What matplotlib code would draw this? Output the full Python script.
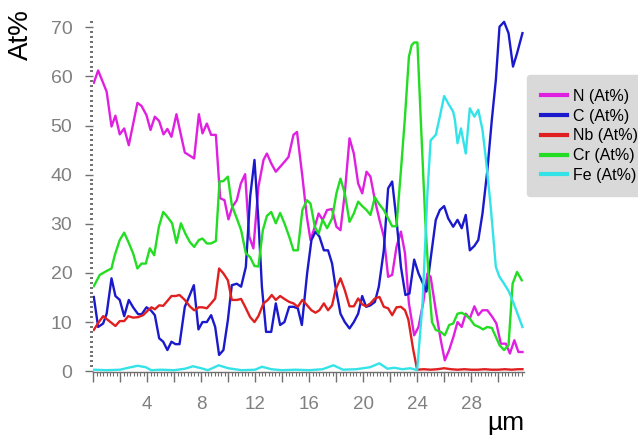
import matplotlib
matplotlib.use("Agg")
import matplotlib.pyplot as plt
from matplotlib.ticker import MultipleLocator, FuncFormatter

plt.rcParams['font.family'] = ['Liberation Sans', 'DejaVu Sans']

# N (At%)
n_x = [0.05, 0.37, 1.0, 1.36, 1.65, 1.97, 2.3, 2.64, 3.28, 3.58,
       3.95, 4.25, 4.57, 4.89, 5.21, 5.5, 5.8, 6.17, 6.5, 6.79,
       7.48, 7.83, 8.1, 8.42, 8.74, 9.09, 9.41, 9.73, 10.02, 10.32,
       10.64, 10.94, 11.26, 11.56, 11.87, 12.24, 12.62, 12.87, 13.19, 13.53,
       13.85, 14.17, 14.47, 14.84, 15.1, 15.5, 15.83, 16.1, 16.42, 16.7,
       17.0, 17.33, 17.7, 18.02, 18.32, 18.64, 18.99, 19.31, 19.63, 19.93,
       20.25, 20.54, 20.87, 21.21, 21.53, 21.85, 22.15, 22.47, 22.8, 23.1,
       23.39, 23.78, 24.1, 24.44, 24.76, 25.0, 25.38, 25.75, 26.05, 26.37,
       26.69, 26.99, 27.3, 27.6, 27.9, 28.24, 28.53, 28.84, 29.2, 29.58,
       29.87, 30.2, 30.57, 30.87, 31.2, 31.5, 31.8]
n_y = [58.7, 61.2, 56.9, 49.8, 52.0, 48.2, 49.4, 46.0, 54.6, 54.0,
       52.1, 49.1, 51.8, 50.9, 48.2, 49.3, 47.7, 52.3, 48.1, 44.5,
       43.3, 52.3, 48.4, 50.4, 48.1, 48.1, 35.2, 34.8, 30.9, 33.5,
       34.8, 38.2, 40.1, 27.4, 25.0, 37.5, 43.0, 44.3, 42.3, 40.6,
       41.6, 42.6, 43.6, 48.1, 48.7, 39.6, 31.4, 26.7, 29.4, 32.1,
       30.8, 32.8, 33.0, 29.4, 28.7, 36.2, 47.4, 44.3, 38.2, 36.2,
       40.6, 39.6, 34.8, 30.8, 27.4, 19.2, 19.6, 25.3, 28.4, 24.0,
       13.8, 7.3, 9.0, 13.8, 19.9, 19.2, 12.4, 6.3, 2.2, 4.3,
       7.0, 10.0, 9.0, 11.7, 10.7, 13.2, 11.4, 12.4, 12.4, 11.0,
       9.7, 5.6, 5.6, 3.6, 6.3, 3.9, 3.9]

# C (At%)
c_x = [0.05, 0.37, 0.74, 1.0, 1.36, 1.65, 1.97, 2.3, 2.64, 2.96,
       3.33, 3.6, 3.95, 4.27, 4.57, 4.89, 5.19, 5.5, 5.8, 6.1,
       6.4, 6.79, 7.1, 7.46, 7.8, 8.1, 8.42, 8.74, 9.04, 9.33,
       9.65, 9.98, 10.27, 10.64, 10.96, 11.31, 11.63, 11.95, 12.24, 12.5,
       12.81, 13.19, 13.53, 13.85, 14.17, 14.52, 14.84, 15.16, 15.46, 15.85,
       16.17, 16.47, 16.76, 17.09, 17.4, 17.7, 17.95, 18.32, 18.64, 18.99,
       19.31, 19.63, 19.93, 20.22, 20.54, 20.87, 21.16, 21.53, 21.85, 22.15,
       22.47, 22.8, 23.13, 23.43, 23.78, 24.1, 24.44, 24.69, 25.0, 25.38,
       25.68, 26.0, 26.3, 26.67, 26.99, 27.3, 27.6, 27.9, 28.24, 28.53,
       28.84, 29.2, 29.53, 29.83, 30.1, 30.44, 30.77, 31.1, 31.4, 31.8]
c_y = [15.1, 9.0, 9.7, 11.7, 18.9, 15.3, 14.5, 11.2, 14.5, 13.0,
       11.6, 11.6, 13.0, 12.4, 11.4, 6.7, 6.0, 4.3, 6.0, 5.5,
       5.5, 13.1, 15.1, 17.5, 8.5, 10.0, 10.0, 11.4, 9.0, 3.3,
       4.3, 10.4, 17.5, 17.8, 17.2, 21.2, 35.5, 43.0, 30.8, 17.2,
       8.0, 8.0, 13.8, 9.4, 10.0, 13.1, 13.1, 12.8, 9.4, 19.9,
       26.7, 28.4, 27.4, 24.6, 24.6, 21.9, 17.2, 11.7, 10.0, 8.7,
       10.0, 11.7, 15.3, 13.1, 13.4, 14.1, 17.2, 24.6, 37.2, 38.6,
       30.8, 21.2, 15.5, 15.8, 22.7, 19.9, 17.8, 16.2, 22.9, 30.8,
       32.8, 33.6, 31.1, 29.4, 30.8, 29.1, 31.8, 24.6, 25.5, 26.7,
       32.1, 40.9, 51.1, 59.3, 70.1, 71.1, 68.8, 62.0, 64.7, 68.8]

# Nb (At%)
nb_x = [0.05, 0.42, 0.74, 1.1, 1.65, 1.97, 2.3, 2.6, 2.96, 3.33,
        3.7, 4.07, 4.32, 4.57, 4.89, 5.19, 5.5, 5.8, 6.1, 6.4,
        6.79, 7.16, 7.48, 7.83, 8.1, 8.42, 8.74, 9.04, 9.33, 9.65,
        9.98, 10.27, 10.64, 10.96, 11.26, 11.63, 11.95, 12.24, 12.62, 12.94,
        13.23, 13.53, 13.85, 14.17, 14.52, 14.84, 15.16, 15.5, 15.85, 16.17,
        16.47, 16.76, 17.09, 17.4, 17.7, 17.95, 18.32, 18.64, 18.99, 19.31,
        19.63, 19.93, 20.22, 20.54, 20.87, 21.21, 21.53, 21.85, 22.15, 22.47,
        22.8, 23.1, 23.35, 23.7, 24.0, 24.5, 25.0, 25.5, 26.0, 26.5,
        27.0, 27.5, 28.0, 28.5, 29.0, 29.5, 30.0, 30.5, 31.0, 31.5,
        31.8]
nb_y = [8.4, 10.0, 11.2, 10.4, 9.2, 10.2, 10.2, 11.2, 10.9, 11.0,
        11.4, 12.4, 13.0, 12.6, 13.4, 13.3, 14.3, 15.3, 15.3, 15.5,
        14.5, 13.2, 12.4, 13.0, 13.0, 12.8, 13.8, 14.8, 20.9, 19.9,
        18.5, 14.5, 14.5, 14.7, 13.1, 11.0, 10.0, 11.2, 13.8, 14.5,
        15.5, 14.5, 15.3, 14.7, 14.1, 13.8, 13.1, 14.5, 13.4, 12.4,
        11.9, 12.4, 13.8, 12.4, 13.4, 16.5, 18.9, 16.5, 13.2, 13.2,
        14.8, 13.6, 13.2, 13.8, 14.8, 15.1, 13.1, 12.8, 11.4, 13.0,
        13.1, 12.4, 10.5, 4.5, 0.3, 0.4, 0.3, 0.4, 0.6, 0.4,
        0.3, 0.4, 0.3, 0.3, 0.4, 0.3, 0.3, 0.4, 0.3, 0.4,
        0.4]

# Cr (At%)
cr_x = [0.05, 0.49, 1.0, 1.36, 1.6, 1.97, 2.3, 2.64, 2.96, 3.28,
        3.58, 3.9, 4.2, 4.52, 4.87, 5.19, 5.5, 5.85, 6.17, 6.5,
        6.83, 7.16, 7.48, 7.83, 8.1, 8.42, 8.74, 9.09, 9.36, 9.65,
        9.98, 10.27, 10.64, 10.96, 11.31, 11.63, 11.95, 12.24, 12.57, 12.87,
        13.19, 13.53, 13.85, 14.17, 14.52, 14.84, 15.16, 15.5, 15.83, 16.1,
        16.42, 16.7, 17.0, 17.33, 17.7, 18.02, 18.32, 18.64, 18.99, 19.31,
        19.63, 19.93, 20.25, 20.54, 20.87, 21.16, 21.53, 21.85, 22.15, 22.47,
        22.8, 23.1, 23.39, 23.6, 23.78, 24.02, 24.27, 24.6, 24.89, 25.1,
        25.38, 25.75, 26.05, 26.37, 26.67, 26.99, 27.3, 27.6, 27.9, 28.24,
        28.58, 28.88, 29.2, 29.53, 29.83, 30.1, 30.44, 30.77, 31.07, 31.4,
        31.75]
cr_y = [17.3, 19.6, 20.4, 20.9, 23.6, 26.7, 28.2, 26.1, 24.0, 20.9,
        21.9, 21.9, 25.0, 23.6, 29.4, 32.4, 31.4, 30.1, 26.1, 30.1,
        28.0, 26.3, 25.3, 26.7, 27.0, 26.0, 26.0, 26.5, 38.6, 38.7,
        39.6, 33.8, 31.1, 28.7, 24.0, 23.2, 21.4, 21.3, 28.7, 31.6,
        32.4, 30.1, 32.2, 30.1, 27.4, 24.6, 24.6, 32.8, 34.8, 34.1,
        29.4, 28.0, 30.8, 29.1, 31.1, 36.2, 39.2, 36.2, 30.4, 32.1,
        34.5, 33.6, 32.8, 31.8, 35.4, 34.1, 32.8, 31.1, 29.5, 29.5,
        40.9, 51.8, 64.0, 66.4, 66.9, 66.9, 51.1, 30.8, 17.2, 10.0,
        8.4, 8.0, 7.3, 9.4, 9.7, 11.7, 11.9, 11.4, 10.7, 9.4,
        9.0, 8.5, 9.0, 8.8, 7.0, 5.3, 4.3, 5.3, 17.8, 20.2,
        18.5]

# Fe (At%)
fe_x = [0.05, 1.0, 2.0, 2.6, 3.3, 3.9, 4.3, 5.0, 6.0, 6.8,
        7.4, 8.0, 8.5, 9.3, 10.0, 11.0, 12.0, 12.5, 13.2, 14.0,
        15.0, 16.0, 17.0, 17.8, 18.5, 19.5, 20.5, 21.2, 21.8, 22.3,
        22.9, 23.5, 24.0, 24.4, 24.76, 25.0, 25.38, 25.68, 26.0, 26.3,
        26.67, 26.8, 26.99, 27.25, 27.6, 27.9, 28.24, 28.53, 28.84, 29.1,
        29.45, 29.83, 30.1, 30.44, 30.8, 31.15, 31.8]
fe_y = [0.3, 0.2, 0.3, 0.7, 1.1, 0.8, 0.2, 0.3, 0.2, 0.5,
        1.0, 0.6, 0.2, 1.2, 0.6, 0.2, 0.3, 0.9, 0.4, 0.2,
        0.3, 0.2, 0.4, 1.2, 0.3, 0.4, 0.8, 1.6, 0.5, 0.7,
        0.4, 0.6, 0.2, 13.8, 36.2, 47.0, 48.1, 51.8, 56.0, 54.5,
        52.8, 51.1, 46.4, 49.4, 44.3, 53.5, 51.8, 53.2, 49.1, 43.0,
        33.5, 21.2, 19.2, 17.8, 16.2, 13.8, 9.0]

fig = plt.figure(figsize=(6.38, 4.42), dpi=100)
ax = fig.add_axes([0.146, 0.158, 0.675, 0.797])

lw = 1.7
ax.plot(n_x, n_y, color='#e020e0', lw=lw, label='N (At%)')
ax.plot(c_x, c_y, color='#1a1acc', lw=lw, label='C (At%)')
ax.plot(nb_x, nb_y, color='#e02020', lw=lw, label='Nb (At%)')
ax.plot(cr_x, cr_y, color='#22dd22', lw=lw, label='Cr (At%)')
ax.plot(fe_x, fe_y, color='#33e3e8', lw=lw, label='Fe (At%)')

ax.set_xlim(0, 31.9)
ax.set_ylim(-0.2, 71.5)

for s in ['top', 'right', 'left']:
    ax.spines[s].set_visible(False)
ax.spines['bottom'].set_color('#707070')
ax.spines['bottom'].set_linewidth(1.0)

ax.xaxis.set_major_locator(MultipleLocator(2))
ax.xaxis.set_minor_locator(MultipleLocator(0.25))
ax.xaxis.set_major_formatter(FuncFormatter(
    lambda v, p: '%d' % v if (v > 0 and int(round(v)) % 4 == 0) else ''))
ax.yaxis.set_major_locator(MultipleLocator(10))
ax.yaxis.set_minor_locator(MultipleLocator(1))

ax.tick_params(axis='x', which='major', length=7, width=1.0, color='#707070',
               labelsize=13.5, labelcolor='#808080', pad=10)
ax.tick_params(axis='x', which='minor', length=3, width=0.8, color='#707070')
ax.tick_params(axis='y', which='major', length=6, width=1.0, color='#707070',
               labelsize=14, labelcolor='#808080', pad=9)
ax.tick_params(axis='y', which='minor', length=2, width=1.4, color='#707070')

fig.text(0.033, 0.921, 'At%', rotation=90, fontsize=20, ha='center', va='center')
fig.text(0.793, 0.043, 'µm', fontsize=19, ha='center', va='center')

leg = ax.legend(loc='upper left', bbox_to_anchor=(0.826, 0.83),
                bbox_transform=fig.transFigure, fontsize=11.5,
                frameon=True, fancybox=True, facecolor='#d9d9d9',
                edgecolor='#d9d9d9', framealpha=1, handlelength=1.65,
                handletextpad=0.4, labelspacing=0.3, borderpad=0.85,
                borderaxespad=0)
for line in leg.get_lines():
    line.set_linewidth(3)

fig.savefig('out.png', dpi=100)
